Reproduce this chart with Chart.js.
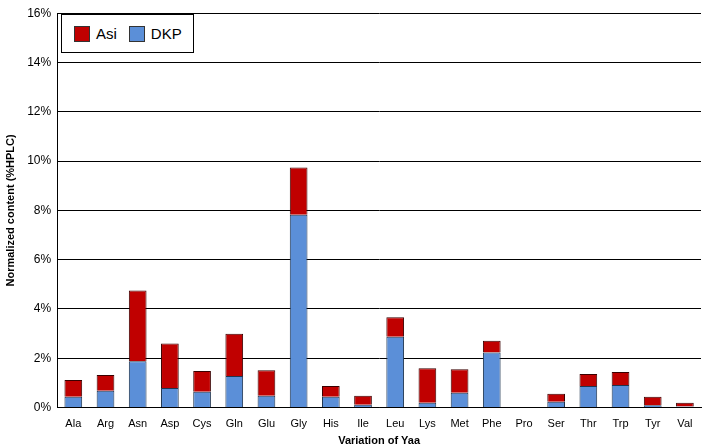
<!DOCTYPE html>
<html>
<head>
<script src="https://cdn.jsdelivr.net/npm/chart.js@4"></script>
<style>
body { margin: 0; background: #fff; }
#wrap { width: 709px; height: 448px; position: relative; }
#legend_box { position: absolute; left: 61px; top: 14px; width: 131px; height: 37px; border: 1px solid #000; background: #fff;
    font-family: Arial, 'Liberation Sans', sans-serif; font-size: 15px; display: flex; align-items: center; }
.sw { display: inline-block; width: 14px; height: 14px; border: 1px solid #333; margin: 0 6px 0 12px; }
</style>
</head>
<body>
<div id="wrap">
<canvas id="chart_canvas" width="709" height="448"></canvas>
<div id="legend_box"><span class="sw" style="background:#c00000"></span>Asi<span class="sw" style="background:#5b8fd8"></span>DKP</div>
</div>
<script>
// categories and values (%HPLC)
const categories = ['Ala', 'Arg', 'Asn', 'Asp', 'Cys', 'Gln', 'Glu', 'Gly', 'His', 'Ile',
    'Leu', 'Lys', 'Met', 'Phe', 'Pro', 'Ser', 'Thr', 'Trp', 'Tyr', 'Val'];
const dkp_values = [0.44, 0.68, 1.88, 0.80, 0.64, 1.28, 0.48, 7.82, 0.44, 0.12,
    2.87, 0.20, 0.60, 2.24, 0, 0.24, 0.88, 0.92, 0.10, 0.04];
const asi_values = [0.68, 0.64, 2.87, 1.80, 0.84, 1.72, 1.04, 1.92, 0.44, 0.36,
    0.80, 1.40, 0.96, 0.47, 0, 0.32, 0.48, 0.52, 0.34, 0.16];

const font_family = "Arial, 'Liberation Sans', sans-serif";

new Chart(document.getElementById('chart_canvas'), {
    type: 'bar',
    data: {
        labels: categories,
        datasets: [
            {label: 'DKP', data: dkp_values, backgroundColor: '#5b8fd8', borderColor: '#1f3550', borderWidth: 1, barPercentage: 0.55, categoryPercentage: 1},
            {label: 'Asi', data: asi_values, backgroundColor: '#c00000', borderColor: '#3a0000', borderWidth: 1, barPercentage: 0.55, categoryPercentage: 1}
        ]
    },
    options: {
        responsive: false,
        animation: false,
        layout: {padding: {top: 2, right: 8, bottom: 0}},
        plugins: {legend: {display: false}, tooltip: {enabled: false}},
        scales: {
            x: {
                stacked: true,
                grid: {display: false},
                border: {color: '#000'},
                ticks: {padding: 2, color: '#000', font: {family: font_family, size: 11}},
                title: {display: true, padding: {top: 2, bottom: 0}, text: 'Variation of Yaa', color: '#000', font: {family: font_family, size: 11, weight: 'bold'}}
            },
            y: {
                stacked: true,
                min: 0, max: 16,
                grid: {color: '#000', drawTicks: false},
                border: {color: '#000'},
                ticks: {stepSize: 2, padding: 6, color: '#000', font: {family: font_family, size: 12}, callback: v => v + '%'},
                title: {display: true, text: 'Normalized content (%HPLC)', color: '#000', font: {family: font_family, size: 11, weight: 'bold'}}
            }
        }
    }
});
</script>
</body>
</html>
